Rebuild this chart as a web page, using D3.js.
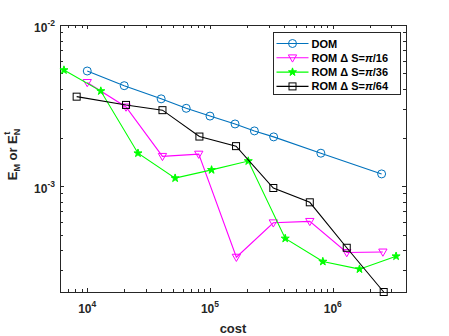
<!DOCTYPE html>
<html>
<head>
<meta charset="utf-8">
<script src="https://cdn.jsdelivr.net/npm/d3@7"></script>
<style>
  body { margin: 0; background: #fff; }
  svg { display: block; font-family: "Liberation Sans", Arial, Helvetica, sans-serif; font-weight: bold; }
</style>
</head>
<body>
<div id="chart"></div>
<script>
// data
var domCost = [1e4, 2e4, 4e4, 6.4e4, 1e5, 1.6e5, 2.3e5, 3.3e5, 8e5, 2.5e6];
var domErr  = [5.18e-3, 4.2e-3, 3.48e-3, 3.04e-3, 2.72e-3, 2.43e-3, 2.2e-3, 2.02e-3, 1.6e-3, 1.19e-3];

var rom16Cost = [1e4, 2.07e4, 4.1e4, 8.1e4, 1.64e5, 3.28e5, 6.5e5, 1.3e6, 2.56e6];
var rom16Err  = [4.4e-3, 3.1e-3, 1.53e-3, 1.58e-3, 3.62e-4, 5.92e-4, 6.04e-4, 3.87e-4, 3.9e-4];

var rom36Cost = [6.46e3, 1.29e4, 2.59e4, 5.2e4, 1.03e5, 2.05e5, 4.1e5, 8.3e5, 1.65e6, 3.28e6];
var rom36Err  = [5.25e-3, 3.89e-3, 1.6e-3, 1.12e-3, 1.26e-3, 1.43e-3, 4.73e-4, 3.4e-4, 3.05e-4, 3.67e-4];

var rom64Cost = [8.2e3, 2.07e4, 4.1e4, 8.2e4, 1.63e5, 3.28e5, 6.5e5, 1.3e6, 2.6e6];
var rom64Err  = [3.59e-3, 3.19e-3, 2.96e-3, 2.03e-3, 1.77e-3, 9.73e-4, 7.93e-4, 4.14e-4, 2.2e-4];

var seriesNames = ["DOM", "ROM \u0394 S=", "ROM \u0394 S=", "ROM \u0394 S="];
var seriesFrac = ["", "/16", "/36", "/64"];
var xTickExp = [4, 5, 6];
var yTickExp = [-2, -3];

var width = 449, height = 336;
var margin = {left: 60, right: 43, top: 25, bottom: 44};

var svg = d3.select('#chart').append('svg')
  .attr('width', width)
  .attr('height', height);

var x = d3.scaleLog().domain([6000, 3.95e6]).range([margin.left, width - margin.right]);
var y = d3.scaleLog().domain([2.2e-4, 1e-2]).range([height - margin.bottom, margin.top]);

var x0 = margin.left, x1 = width - margin.right, y0 = height - margin.bottom, y1 = margin.top;
var axisColor = '#262626';

/* ticks on all four sides, pointing inward */
var tl = 4;
var g = svg.append('g').attr('stroke', axisColor).attr('stroke-width', 1).attr('shape-rendering', 'crispEdges');
x.ticks().filter(function(d){ return d >= x.domain()[0] && d <= x.domain()[1]; }).forEach(function(d){
  var major = Math.abs(Math.log10(d) - Math.round(Math.log10(d))) < 1e-9;
  var len = major ? tl : tl - 1;
  var px = Math.round(x(d)) + 0.5;
  g.append('line').attr('x1', px).attr('x2', px).attr('y1', y0).attr('y2', y0 - len);
  g.append('line').attr('x1', px).attr('x2', px).attr('y1', y1).attr('y2', y1 + len);
});
y.ticks().filter(function(d){ return d >= y.domain()[0] && d <= y.domain()[1]; }).forEach(function(d){
  var major = Math.abs(Math.log10(d) - Math.round(Math.log10(d))) < 1e-9;
  var len = major ? tl : tl - 1;
  var py = Math.round(y(d)) + 0.5;
  g.append('line').attr('x1', x0).attr('x2', x0 + len).attr('y1', py).attr('y2', py);
  g.append('line').attr('x1', x1).attr('x2', x1 - len).attr('y1', py).attr('y2', py);
});
svg.append('rect')
  .attr('x', x0 + 0.5).attr('y', y1 + 0.5)
  .attr('width', x1 - x0).attr('height', y0 - y1)
  .attr('fill', 'none').attr('stroke', axisColor).attr('stroke-width', 1)
  .attr('shape-rendering', 'crispEdges');

/* tick labels */
xTickExp.forEach(function(e){
  var t = svg.append('text')
    .attr('x', x(Math.pow(10, e)))
    .attr('y', y0 + 21)
    .attr('text-anchor', 'middle')
    .attr('font-size', 12)
    .attr('fill', axisColor);
  t.append('tspan').text('10');
  t.append('tspan').attr('dy', -6).attr('font-size', 8.5).text(e);
});
yTickExp.forEach(function(e){
  var t = svg.append('text')
    .attr('x', x0 - 5)
    .attr('y', y(Math.pow(10, e)) + 7)
    .attr('text-anchor', 'end')
    .attr('font-size', 12)
    .attr('fill', axisColor);
  t.append('tspan').text('10');
  t.append('tspan').attr('dy', -6).attr('font-size', 8.5).text(e);
});

/* axis labels */
svg.append('text')
  .attr('x', (x0 + x1) / 2)
  .attr('y', 333)
  .attr('text-anchor', 'middle')
  .attr('font-size', 13)
  .attr('fill', axisColor)
  .text('cost');

var yl = svg.append('text')
  .attr('transform', 'translate(17,' + ((y0 + y1) / 2 - 4) + ') rotate(-90)')
  .attr('text-anchor', 'middle')
  .attr('font-size', 13)
  .attr('fill', axisColor);
yl.append('tspan').text('E');
yl.append('tspan').attr('dy', 3).attr('font-size', 9).text('M');
yl.append('tspan').attr('dy', -3).text(' or E');
yl.append('tspan').attr('dy', 3).attr('font-size', 9).text('N');
yl.append('tspan').attr('dy', -10).attr('dx', -6).attr('font-size', 9).text('t');

/* series */
var series = [
  {cost: domCost, err: domErr, color: '#0072BD', marker: 'circle'},
  {cost: rom16Cost, err: rom16Err, color: '#FF00FF', marker: 'triangle'},
  {cost: rom36Cost, err: rom36Err, color: '#00FF00', marker: 'star'},
  {cost: rom64Cost, err: rom64Err, color: '#000000', marker: 'square'}
];

var line = d3.line()
  .x(function(d){ return x(d[0]); })
  .y(function(d){ return y(d[1]); });

function drawMarker(sel, type, color, cx, cy) {
  if (type === 'circle') {
    sel.append('circle').attr('cx', cx).attr('cy', cy).attr('r', 4)
      .attr('fill', 'none').attr('stroke', color).attr('stroke-width', 1);
  } else if (type === 'square') {
    sel.append('rect').attr('x', cx - 3.5).attr('y', cy - 3.5).attr('width', 7).attr('height', 7)
      .attr('fill', 'none').attr('stroke', color).attr('stroke-width', 1);
  } else if (type === 'triangle') {
    sel.append('path').attr('d', d3.symbol().type(d3.symbolTriangle).size(30)())
      .attr('transform', 'translate(' + cx + ',' + (cy - 0.5) + ') rotate(180)')
      .attr('fill', 'none').attr('stroke', color).attr('stroke-width', 1);
  } else if (type === 'star') {
    sel.append('path').attr('d', d3.symbol().type(d3.symbolStar).size(20)())
      .attr('transform', 'translate(' + cx + ',' + cy + ')')
      .attr('fill', color).attr('stroke', color).attr('stroke-width', 1);
  }
}

series.forEach(function(s){
  var pts = d3.zip(s.cost, s.err);
  svg.append('path')
    .datum(pts)
    .attr('d', line)
    .attr('fill', 'none')
    .attr('stroke', s.color)
    .attr('stroke-width', 1.1);
  var mg = svg.append('g');
  pts.forEach(function(p){ drawMarker(mg, s.marker, s.color, x(p[0]), y(p[1])); });
});

/* legend */
var lx = 273.5, ly = 32.5, lw = 127, lh = 62;
var leg = svg.append('g');
leg.append('rect').attr('x', lx).attr('y', ly).attr('width', lw).attr('height', lh)
  .attr('fill', '#fff').attr('stroke', axisColor).attr('stroke-width', 1);
series.forEach(function(s, i){
  var yy = ly + 11 + i * 14.3;
  leg.append('line').attr('x1', lx + 3).attr('x2', lx + 35).attr('y1', yy).attr('y2', yy)
    .attr('stroke', s.color).attr('stroke-width', 1.1);
  drawMarker(leg, s.marker, s.color, lx + 19, yy);
  var t = leg.append('text')
    .attr('x', lx + 38)
    .attr('y', yy + 4)
    .attr('font-size', 11)
    .attr('fill', '#000');
  t.append('tspan').text(seriesNames[i]);
  if (seriesFrac[i]) {
    t.append('tspan').attr('font-style', 'italic').text('\u03c0');
    t.append('tspan').text(seriesFrac[i]);
  }
});
</script>
</body>
</html>
